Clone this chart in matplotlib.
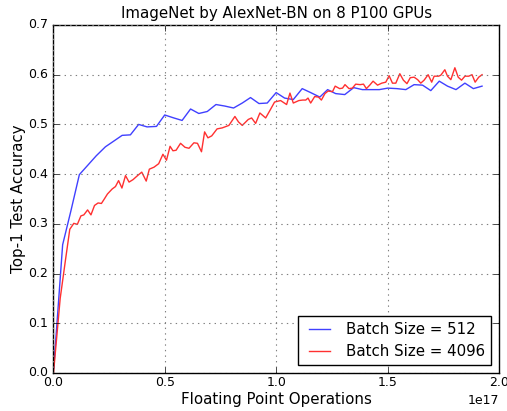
import matplotlib
matplotlib.use("Agg")
import matplotlib.pyplot as plt

plt.style.use('classic')

# x values in units of 1e17 floating point operations
x_512 = [0.002, 0.042, 0.079, 0.117, 0.155, 0.193, 0.234, 0.270, 0.309, 0.346,
         0.383, 0.421, 0.463, 0.500, 0.541, 0.578, 0.616, 0.653, 0.691, 0.730,
         0.769, 0.809, 0.848, 0.885, 0.923, 0.960, 1.000, 1.038, 1.077, 1.117,
         1.155, 1.196, 1.231, 1.267, 1.308, 1.348, 1.387, 1.425, 1.463, 1.501,
         1.542, 1.582, 1.619, 1.657, 1.694, 1.732, 1.769, 1.807, 1.847, 1.885,
         1.924]
acc_512 = [0.010, 0.258, 0.326, 0.399, 0.418, 0.437, 0.455, 0.466, 0.478, 0.479,
           0.500, 0.495, 0.496, 0.519, 0.513, 0.508, 0.531, 0.522, 0.526, 0.540,
           0.537, 0.533, 0.543, 0.554, 0.542, 0.543, 0.564, 0.553, 0.550, 0.572,
           0.564, 0.555, 0.570, 0.562, 0.560, 0.574, 0.570, 0.570, 0.570, 0.573,
           0.572, 0.570, 0.580, 0.579, 0.568, 0.587, 0.577, 0.570, 0.583, 0.572,
           0.577]

x_4096 = [0.001, 0.031, 0.054, 0.074, 0.092, 0.108, 0.124, 0.137, 0.154,
          0.169, 0.185, 0.201, 0.216, 0.229, 0.243, 0.264, 0.279, 0.293, 0.308,
          0.324, 0.340, 0.358, 0.378, 0.397, 0.417, 0.431, 0.452, 0.473, 0.492,
          0.508, 0.524, 0.537, 0.551, 0.571, 0.591, 0.609, 0.631, 0.647, 0.665,
          0.679, 0.694, 0.711, 0.735, 0.758, 0.788, 0.815, 0.831, 0.848, 0.875,
          0.890, 0.908, 0.927, 0.953, 0.972, 0.993, 1.020, 1.047, 1.062, 1.077,
          1.102, 1.119, 1.133, 1.143, 1.155, 1.173, 1.190, 1.203, 1.219, 1.233,
          1.253, 1.265, 1.285, 1.298, 1.309, 1.327, 1.342, 1.357, 1.377, 1.392,
          1.405, 1.420, 1.435, 1.455, 1.474, 1.492, 1.507, 1.522, 1.537, 1.555,
          1.571, 1.587, 1.602, 1.619, 1.635, 1.649, 1.664, 1.682, 1.698, 1.709,
          1.729, 1.739, 1.757, 1.769, 1.784, 1.802, 1.817, 1.832, 1.847, 1.864,
          1.879, 1.893, 1.909, 1.924]
acc_4096 = [0.000, 0.150, 0.225, 0.289, 0.301, 0.299, 0.316, 0.318, 0.328,
            0.318, 0.337, 0.342, 0.341, 0.350, 0.360, 0.370, 0.375, 0.387, 0.372,
            0.397, 0.384, 0.389, 0.397, 0.404, 0.386, 0.410, 0.414, 0.421, 0.440,
            0.428, 0.456, 0.447, 0.448, 0.462, 0.454, 0.452, 0.463, 0.462, 0.445,
            0.485, 0.473, 0.477, 0.491, 0.493, 0.498, 0.516, 0.505, 0.498, 0.510,
            0.513, 0.502, 0.523, 0.513, 0.528, 0.545, 0.548, 0.540, 0.563, 0.543,
            0.548, 0.549, 0.549, 0.553, 0.543, 0.556, 0.555, 0.549, 0.562, 0.567,
            0.566, 0.577, 0.572, 0.573, 0.580, 0.572, 0.573, 0.581, 0.580, 0.581,
            0.572, 0.579, 0.587, 0.579, 0.583, 0.585, 0.598, 0.583, 0.583, 0.602,
            0.589, 0.582, 0.594, 0.595, 0.590, 0.583, 0.589, 0.600, 0.585, 0.597,
            0.597, 0.599, 0.610, 0.597, 0.590, 0.614, 0.595, 0.589, 0.597, 0.597,
            0.600, 0.585, 0.595, 0.600]

labels = ["Batch Size = 512", "Batch Size = 4096"]

fs = 10.8
fig = plt.figure(figsize=(5.07, 4.11), dpi=100, facecolor='white')
ax = fig.add_axes([0.1051, 0.0925, 0.8791, 0.8467])

ax.plot([v * 1e17 for v in x_512], acc_512, color='#4040ff', lw=1.0, label=labels[0])
ax.plot([v * 1e17 for v in x_4096], acc_4096, color='#ff3030', lw=1.0, label=labels[1])

ax.set_xlim(0, 2.0e17)
ax.set_ylim(0, 0.7)
ax.set_xticks([0, 0.5e17, 1.0e17, 1.5e17, 2.0e17])
ax.set_yticks([0.0, 0.1, 0.2, 0.3, 0.4, 0.5, 0.6, 0.7])
ax.tick_params(labelsize=9)
ax.tick_params(axis='x', pad=2.5)
ax.grid(True, color='gray', linestyle=':', linewidth=0.8)
ax.xaxis.get_offset_text().set_fontsize(9)

ax.set_title("ImageNet by AlexNet-BN on 8 P100 GPUs", fontsize=fs)
ax.set_xlabel("Floating Point Operations", fontsize=fs, labelpad=1.5)
ax.set_ylabel("Top-1 Test Accuracy", fontsize=fs, labelpad=1.5)
ax.legend(loc='lower right', fontsize=fs)

fig.savefig("out.png", dpi=100, facecolor='white')
